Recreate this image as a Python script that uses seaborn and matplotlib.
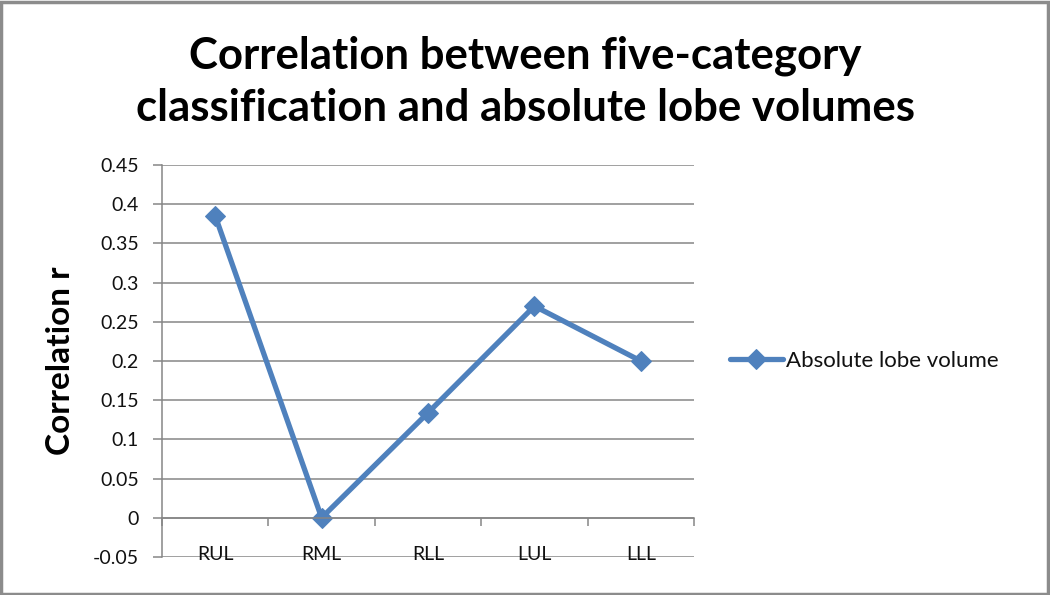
import matplotlib
matplotlib.use("Agg")
import matplotlib.pyplot as plt
import matplotlib.ticker as mticker
from matplotlib.patches import Rectangle
import seaborn as sns
import numpy as np

categories = ["RUL", "RML", "RLL", "LUL", "LLL"]
values = [0.385, 0.0, 0.134, 0.270, 0.200]
series_name = "Absolute lobe volume"
title = "Correlation between five-category\nclassification and absolute lobe volumes"
y_label = "Correlation r"
y_ticks = [-0.05, 0, 0.05, 0.1, 0.15, 0.2, 0.25, 0.3, 0.35, 0.4, 0.45]

sns.set_theme(style="white")
plt.rcParams['font.family'] = ['Lato', 'DejaVu Sans']

fig = plt.figure(figsize=(10.5, 5.95), dpi=100)
ax = fig.add_axes([0.1543, 0.0639, 0.5067, 0.6588])

line_color = "#4F81BD"
grid_color = "#868686"

sns.lineplot(x=categories, y=values, ax=ax, color=line_color, linewidth=3.8,
             marker="D", markersize=10, markeredgecolor=line_color,
             label=series_name, sort=False)

ax.set_ylim(-0.05, 0.45)
ax.set_xlim(-0.5, 4.5)
ax.set_yticks(y_ticks)
ax.yaxis.set_major_formatter(mticker.FuncFormatter(lambda v, p: "%g" % round(v, 2)))
for t in y_ticks:
    ax.axhline(t, color=grid_color, linewidth=1.1, zorder=0)

for s in ["top", "right"]:
    ax.spines[s].set_visible(False)
ax.spines["left"].set_color(grid_color)
ax.spines["left"].set_linewidth(1.1)
ax.spines["bottom"].set_position(("data", 0))
ax.spines["bottom"].set_color(grid_color)
ax.spines["bottom"].set_linewidth(1.1)

ax.tick_params(axis="y", which="major", direction="out", length=6.5, width=1.1,
               color=grid_color, labelsize=14, labelcolor="#111111", left=True, pad=10)
ax.set_xticks(np.arange(-0.5, 4.6, 1.0), minor=True)
ax.tick_params(axis="x", which="minor", direction="out", length=6, width=1.1,
               color=grid_color, bottom=True)
ax.tick_params(axis="x", which="major", length=0, labelsize=14, labelcolor="#111111", pad=20)
ax.set_xlabel("")
ax.set_ylabel(y_label, fontsize=24, fontweight="bold", labelpad=13, color="black")

fig.suptitle(title, fontsize=31.5, fontweight="bold", y=0.94, va="top",
             linespacing=1.35, color="black")

leg = ax.legend(loc="center left", bbox_to_anchor=(1.05, 0.5), frameon=False,
                fontsize=16, handlelength=2.4, handletextpad=0.15, borderaxespad=0,
                labelcolor="#111111")
for h in leg.legend_handles:
    h.set_linewidth(3.8)

fig.patches.append(Rectangle((0.001, 0.002), 0.997, 0.995, transform=fig.transFigure,
                             fill=False, edgecolor="#8c8c8c", linewidth=2.5))

fig.savefig("out.png", dpi=100, facecolor="white")
